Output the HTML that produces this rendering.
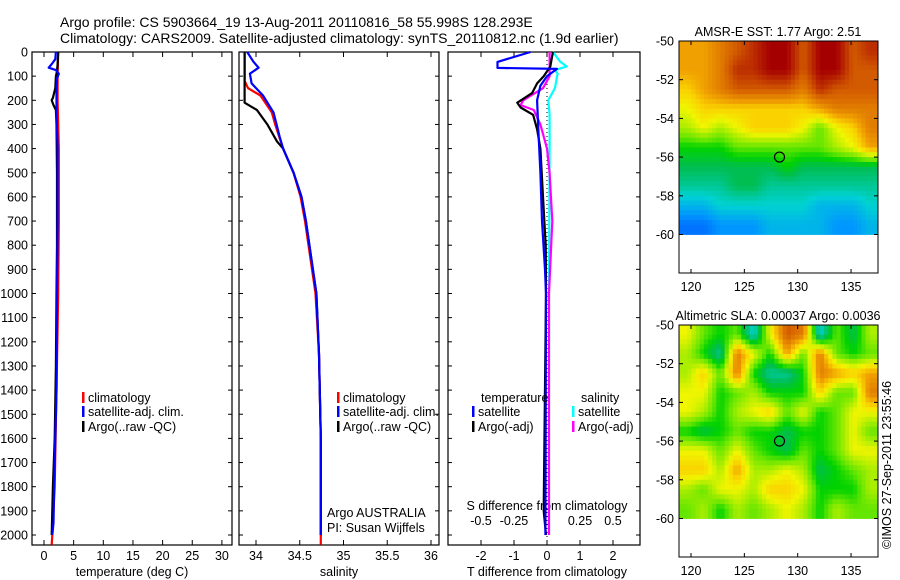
<!DOCTYPE html>
<html><head><meta charset="utf-8"><style>
body{margin:0;background:#fff;width:900px;height:580px;overflow:hidden}
svg{display:block;font-family:"Liberation Sans",Arial,sans-serif}
</style></head><body>
<svg id="fig" width="900" height="580" viewBox="0 0 900 580" xmlns="http://www.w3.org/2000/svg">
<rect width="900" height="580" fill="#fff"/>
<text x="60" y="27" font-size="14">Argo profile: CS 5903664_19 13-Aug-2011 20110816_58 55.998S 128.293E</text>
<text x="60" y="43" font-size="14">Climatology: CARS2009. Satellite-adjusted climatology: synTS_20110812.nc (1.9d earlier)</text>
<g id="g"></g>
</svg>
<script>
// ---- data ----
const tempClimDepth=[0,100,200,400,700,1000,1400,1800,2000,2040];
const tempClimVal=[2.4,2.3,2.3,2.5,2.5,2.4,2.1,1.8,1.4,1.3];
const tempSatDepth=[0,30,50,65,75,90,110,150,250,400,700,1000,1400,1600,1800,1950,2000];
const tempSatVal=[2.0,1.9,1.3,0.8,2.0,2.5,2.2,2.1,2.1,2.3,2.3,2.2,2.1,1.9,1.7,1.6,1.4];
const tempArgoDepth=[0,50,80,100,150,190,200,220,240,300,500,800,1000,1300,1600,1800,1900,2000];
const tempArgoVal=[2.4,2.3,2.2,2.0,1.9,1.5,1.3,1.6,2.0,2.1,2.2,2.2,2.1,2.0,1.8,1.5,1.4,1.3];
const salClimDepth=[0,120,150,180,250,300,400,500,600,700,800,900,1000,1250,1600,2000,2040];
const salClimVal=[33.87,33.87,33.91,34.05,34.18,34.22,34.31,34.43,34.51,34.56,34.6,34.64,34.68,34.72,34.74,34.74,34.74];
const salSatDepth=[0,40,65,90,130,180,250,350,400,500,600,700,800,900,1000,1250,1600,2000];
const salSatVal=[33.9,33.97,34.03,33.93,33.95,34.08,34.2,34.27,34.31,34.43,34.52,34.57,34.61,34.65,34.69,34.72,34.74,34.74];
const salArgoDepth=[0,210,240,300,370,400,500,600,700,800,900,1000,1250,1600,2000];
const salArgoVal=[33.87,33.87,34.01,34.13,34.24,34.31,34.43,34.52,34.57,34.61,34.65,34.69,34.72,34.74,34.74];
const dTSatDepth=[0,41,66,70,100,140,200,300,500,700,900,1000,2000];
const dTSatVal=[-0.5,-1.5,-1.5,0.3,0,-0.2,-0.3,-0.27,-0.2,-0.15,-0.06,-0.03,-0.05];
const dTArgoDepth=[0,60,100,130,170,210,230,260,320,400,600,800,1000,1900,2000];
const dTArgoVal=[0.18,0.1,-0.1,-0.3,-0.45,-0.9,-0.8,-0.42,-0.3,-0.2,-0.12,-0.04,-0.03,-0.1,-0.03];
const dSSatDepth=[0,40,60,75,90,150,200,260,400,1000,2000];
const dSSatVal=[0.045,0.1,0.15,0.06,0.08,0.06,0.01,0.02,0.02,0.015,0.015];
const dSArgoDepth=[0,100,150,200,220,240,300,400,500,700,1000,2000];
const dSArgoVal=[0.02,0.02,-0.03,-0.18,-0.2,-0.1,-0.05,0,0.02,0.04,0.015,0.015];
const depthTicks=[0,100,200,300,400,500,600,700,800,900,1000,1100,1200,1300,1400,1500,1600,1700,1800,1900,2000];
const tempTicks=[0,5,10,15,20,25,30];
const salTicks=[34,34.5,35,35.5,36];
const salTickLabels=["34","34.5","35","35.5","36"];
const dTTicks=[-2,-1,0,1,2];
const dSTicks=[-0.5,-0.25,0,0.25,0.5];
const latTicks=[-50,-52,-54,-56,-58,-60];
const lonTicks=[120,125,130,135];
const sstGrid=[
[8,8,8.5,9,9.5,10,10,9,10,10,9,9.5],
[8,8,8.5,9.5,9.5,10,10,9,10,10,9,9],
[7.5,8,8.5,9,9,9,9,8.5,9.5,9,9,9],
[7,7.5,7.5,7.5,7.5,7.5,7.5,7.5,8,8.5,8.5,8.5],
[6.5,7,6.5,7,7.5,7.5,7.5,7,6,7,7.5,8.5],
[5.5,5.5,5.5,6,6,6,6,6,6,6.5,7,8],
[5,5,5,5,5,5,5.5,5,5,5,5,5],
[4.5,4.5,4.5,5,5,4.5,4.5,4.5,4.5,4.5,4.5,4.5],
[3.5,3.5,4,4,4,4,4,4,3.5,3.5,3.5,4],
[2.5,2.5,3,3,3,3.5,3.5,3.5,3.5,3,3,3.5]];
const slaGrid=[
[7,6,5.5,6,4,7,9,8.5,4,6,5,6.5],
[6.5,5.5,4.5,8.5,7,5.5,8,6,8.5,6,5.5,6],
[6.5,7.5,6,8.5,5.5,4.5,4.5,5.5,8.5,8,7.5,8],
[7,7,5.5,6,6.5,5.5,5.5,5.5,7.5,6,6,8.5],
[7,6.5,5.5,6.5,7,7.5,6,7,5.5,6,7,7],
[5.5,5,5.5,6,5.5,5.5,5,5.5,5.5,6,7,6],
[7,7,6,7,6,5.5,5,6,5.5,6,7,7],
[7.5,7.5,6.5,8,6.5,6.5,7,6.5,5,5.5,6,6.5],
[6.5,6,7,7,6.5,7.5,7.5,7,5.5,5.5,5.5,6.5],
[6,6.5,5.5,6.5,6,6.5,7,6.5,5.5,6.5,6,6]];
const argoLon=128.293, argoLat=-55.998;

// ---- geometry ----
const NS="http://www.w3.org/2000/svg";
const G=document.getElementById('g');
function el(tag,attrs,parent){const e=document.createElementNS(NS,tag);for(const k in attrs)e.setAttribute(k,attrs[k]);(parent||G).appendChild(e);return e;}
const TOP=52,BOT=545;
const yD=d=>TOP+d*0.2415;
const xT=t=>44+t*5.93;
const xS=s=>256+(s-34)*87.5;
const xdT=t=>547+t*33;
const xdS=s=>547+s*132;
function panel(name,x0,x1){const r=el('rect',{x:x0,y:TOP,width:x1-x0,height:BOT-TOP,fill:'none',stroke:'#000','stroke-width':1.2});}
panel('temperature-panel',32,232);panel('salinity-panel',239,439);panel('difference-panel',448,640);
depthTicks.forEach(d=>{const y=yD(d);
 [[32,232],[239,439],[448,640]].forEach(p=>{el('line',{x1:p[0],y1:y,x2:p[0]+4,y2:y,stroke:'#000'});el('line',{x1:p[1],y1:y,x2:p[1]-4,y2:y,stroke:'#000'});});
 const t=el('text',{x:28,y:y+4.5,'font-size':12.5,'text-anchor':'end'});t.textContent=d;
 });
function xticks(vals,labels,fx,name){vals.forEach((v,i)=>{const x=fx(v);el('line',{x1:x,y1:TOP,x2:x,y2:TOP+5,stroke:'#000'});el('line',{x1:x,y1:BOT,x2:x,y2:BOT-5,stroke:'#000'});
 const t=el('text',{x:x,y:560,'font-size':12.5,'text-anchor':'middle'});t.textContent=labels[i];
 });}
xticks(tempTicks,tempTicks.map(String),xT,'temperature-tick-label');
xticks(salTicks,salTickLabels,xS,'salinity-tick-label');
xticks(dTTicks,dTTicks.map(String),xdT,'t-diff-tick-label');
dSTicks.forEach(v=>{const t=el('text',{x:xdS(v),y:525,'font-size':12.5,'text-anchor':'middle'});t.textContent=String(v);
 });
function label(txt,x,y,name,anchor,extra){const t=el('text',Object.assign({x:x,y:y,'font-size':12.5,'text-anchor':anchor||'start'},extra||{}));t.textContent=txt;return t;}
label('temperature (deg C)',132,576,'temperature-axis-title','middle');
label('salinity',339,576,'salinity-axis-title','middle');
label('T difference from climatology',547,576,'t-diff-axis-title','middle');
label('S difference from climatology',547,510,'s-diff-axis-title','middle');
label('Argo AUSTRALIA',327,517,'argo-australia-label');
label('PI: Susan Wijffels',327,532,'pi-label');
el('line',{x1:547,y1:TOP,x2:547,y2:BOT,stroke:'#000','stroke-dasharray':'1,3'});
function series(ds,vs,fx,color,name,dash){const pts=ds.map((d,i)=>fx(vs[i]).toFixed(1)+','+yD(d).toFixed(1)).join(' ');
 const p=el('polyline',{points:pts,fill:'none',stroke:color,'stroke-width':2.2,'stroke-linejoin':'round'});if(dash)p.setAttribute('stroke-dasharray',dash);
 }
series(tempClimDepth,tempClimVal,xT,'#f00','temperature-climatology-line');
series(tempArgoDepth,tempArgoVal,xT,'#000','temperature-argo-line');
series(tempSatDepth,tempSatVal,xT,'#00f','temperature-satellite-line');
series(salClimDepth,salClimVal,xS,'#f00','salinity-climatology-line');
series(salArgoDepth,salArgoVal,xS,'#000','salinity-argo-line');
series(salSatDepth,salSatVal,xS,'#00f','salinity-satellite-line');
series(dSSatDepth,dSSatVal,xdS,'#0ff','s-diff-satellite-line');
series(dSArgoDepth,dSArgoVal,xdS,'#f0f','s-diff-argo-line');
series(dTArgoDepth,dTArgoVal,xdT,'#000','t-diff-argo-line');
series(dTSatDepth,dTSatVal,xdT,'#00f','t-diff-satellite-line');
function leg(x,y,color,txt,name){el('rect',{x:x,y:y-10,width:2.5,height:11,fill:color});label(txt,x+6,y,name);}
leg(82,402,'#f00','climatology','legend-climatology');leg(82,416,'#00f','satellite-adj. clim.','legend-satellite-t');leg(82,431,'#000','Argo(..raw -QC)','legend-argo-t');
leg(337,402,'#f00','climatology','legend-climatology-s');leg(337,416,'#00f','satellite-adj. clim.','legend-satellite-s');leg(337,431,'#000','Argo(..raw -QC)','legend-argo-s');
label('temperature',481,402,'legend-temperature-heading');label('salinity',581,402,'legend-salinity-heading');
leg(472,416,'#00f','satellite','legend-t-satellite');leg(472,431,'#000','Argo(-adj)','legend-t-argo');
leg(572,416,'#0ff','satellite','legend-s-satellite');leg(572,431,'#f0f','Argo(-adj)','legend-s-argo');
const stops=[[2,[0,80,255]],[3,[0,150,255]],[4,[0,210,210]],[4.5,[0,200,150]],[5,[0,190,80]],[5.5,[0,210,0]],[6,[100,230,0]],[7,[240,245,0]],[7.5,[250,210,0]],[8,[240,160,0]],[9,[210,90,0]],[10,[165,0,0]]];
function col(v){if(v<=stops[0][0])return stops[0][1];for(let i=1;i<stops.length;i++){if(v<=stops[i][0]){const a=stops[i-1],b=stops[i],f=(v-a[0])/(b[0]-a[0]);return a[1].map((c,k)=>Math.round(c+(b[1][k]-c)*f));}}return stops[stops.length-1][1];}
function map(grid,top,title,name){
 const X0=679,X1=878,yTop=top,yM60=top+193.5,yBot=top+232;
 const lx=lon=>691+(lon-120)*10.67, ly=lat=>yTop+(-50-lat)*19.35;
 const g=el('g',{});
 const R=grid.length,C=grid[0].length,sub=4;
 const cw=(X1-X0)/(C*sub),ch=(yM60-yTop)/(R*sub);
 for(let r=0;r<R*sub;r++)for(let c=0;c<C*sub;c++){
  const fr=Math.min(Math.max((r+0.5)/sub-0.5,0),R-1),fc=Math.min(Math.max((c+0.5)/sub-0.5,0),C-1);
  const r0=Math.floor(fr),c0=Math.floor(fc),r1=Math.min(r0+1,R-1),c1=Math.min(c0+1,C-1),a=fr-r0,b=fc-c0;
  const v=grid[r0][c0]*(1-a)*(1-b)+grid[r0][c1]*(1-a)*b+grid[r1][c0]*a*(1-b)+grid[r1][c1]*a*b;
  const cc=col(v);el('rect',{x:(X0+c*cw).toFixed(2),y:(yTop+r*ch).toFixed(2),width:(cw+0.4).toFixed(2),height:(ch+0.4).toFixed(2),fill:`rgb(${cc})`},g);}
 el('rect',{x:X0,y:yTop,width:X1-X0,height:yBot-yTop,fill:'none',stroke:'#000'},g);
 latTicks.forEach(l=>{const y=ly(l);el('line',{x1:X0,y1:y,x2:X0+4,y2:y,stroke:'#000'},g);el('line',{x1:X1,y1:y,x2:X1-4,y2:y,stroke:'#000'},g);
  const t=el('text',{x:674,y:y+4.5,'font-size':12.5,'text-anchor':'end'},g);t.textContent=l;});
 lonTicks.forEach(l=>{const x=lx(l);el('line',{x1:x,y1:yTop,x2:x,y2:yTop+4,stroke:'#000'},g);el('line',{x1:x,y1:yBot,x2:x,y2:yBot-4,stroke:'#000'},g);
  const t=el('text',{x:x,y:yBot+18,'font-size':12.5,'text-anchor':'middle'},g);t.textContent=l;});
 const c=el('circle',{cx:lx(argoLon),cy:ly(argoLat),r:5,fill:'none',stroke:'#000','stroke-width':1.2},g);
 
 const t=el('text',{x:778,y:yTop-5,'font-size':12.5,'text-anchor':'middle'},g);t.textContent=title;
}
map(sstGrid,41,'AMSR-E SST: 1.77 Argo: 2.51','sst-map');
map(slaGrid,325,'Altimetric SLA: 0.00037 Argo: 0.0036','sla-map');
label('©IMOS 27-Sep-2011 23:55:46',0,0,'imos-timestamp','middle',{transform:'translate(891,465) rotate(-90)'});
</script>
</body></html>
